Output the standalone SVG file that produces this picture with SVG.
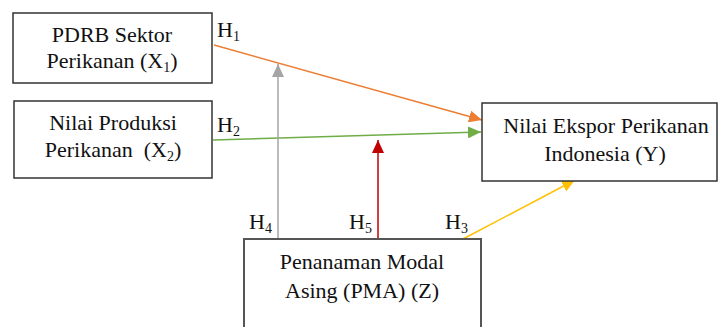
<svg xmlns="http://www.w3.org/2000/svg" width="718" height="327" viewBox="0 0 718 327">
<style>
.box{fill:#fff;stroke:#333;stroke-width:1.5}
.t{font-family:"Liberation Serif","Times New Roman",serif;font-size:22px;fill:#111;text-anchor:middle}
.h{font-family:"Liberation Serif","Times New Roman",serif;font-size:22px;fill:#111}
.c{fill:none;stroke-width:1.5}
</style>
<defs>
<marker id="mo" markerUnits="userSpaceOnUse" markerWidth="14" markerHeight="12" refX="13" refY="6" orient="auto"><path d="M0,0 L13,6 L0,12 Z" fill="#ED7D31"/></marker>
<marker id="mg" markerUnits="userSpaceOnUse" markerWidth="14" markerHeight="12" refX="13" refY="6" orient="auto"><path d="M0,0 L13,6 L0,12 Z" fill="#70AD47"/></marker>
<marker id="ma" markerUnits="userSpaceOnUse" markerWidth="14" markerHeight="12" refX="13" refY="6" orient="auto"><path d="M0,0 L13,6 L0,12 Z" fill="#A5A5A5"/></marker>
<marker id="mr" markerUnits="userSpaceOnUse" markerWidth="14" markerHeight="12" refX="13" refY="6" orient="auto"><path d="M0,0 L13,6 L0,12 Z" fill="#C00000"/></marker>
<marker id="my" markerUnits="userSpaceOnUse" markerWidth="14" markerHeight="12" refX="13" refY="6" orient="auto"><path d="M0,0 L13,6 L0,12 Z" fill="#FFC000"/></marker>
</defs>
<rect width="718" height="327" fill="#fff"/>
<g id="connectors">
<line class="c" x1="214" y1="45" x2="482" y2="120" stroke="#ED7D31" marker-end="url(#mo)"/>
<line class="c" x1="213" y1="140" x2="481" y2="132" stroke="#70AD47" marker-end="url(#mg)"/>
<line class="c" x1="278" y1="239" x2="278" y2="64" stroke="#A5A5A5" marker-end="url(#ma)"/>
<line class="c" x1="378" y1="239" x2="378" y2="140" stroke="#C00000" marker-end="url(#mr)"/>
<line class="c" x1="463" y1="239" x2="575" y2="180" stroke="#FFC000" marker-end="url(#my)"/>
<text class="h" x="217" y="37">H<tspan font-size="14" dy="4">1</tspan></text>
<text class="h" x="217" y="132">H<tspan font-size="14" dy="4">2</tspan></text>
<text class="h" x="249" y="229">H<tspan font-size="14" dy="4">4</tspan></text>
<text class="h" x="349" y="229">H<tspan font-size="14" dy="4">5</tspan></text>
<text class="h" x="445" y="229">H<tspan font-size="14" dy="4">3</tspan></text>
</g>
<g id="x1">
<rect class="box" x="13" y="13" width="199" height="70"/>
<text class="t" x="112" y="42">PDRB Sektor</text>
<text class="t" x="112" y="68">Perikanan (X<tspan font-size="14" dy="4">1</tspan><tspan dy="-4">)</tspan></text>
</g>
<g id="x2">
<rect class="box" x="14" y="101" width="198" height="77"/>
<text class="t" x="113" y="130">Nilai Produksi</text>
<text class="t" x="113" y="157" xml:space="preserve">Perikanan  (X<tspan font-size="14" dy="4">2</tspan><tspan dy="-4">)</tspan></text>
</g>
<g id="y">
<rect class="box" x="482" y="103" width="235" height="78"/>
<text class="t" x="606" y="133">Nilai Ekspor Perikanan</text>
<text class="t" x="605" y="161">Indonesia (Y)</text>
</g>
<g id="z">
<rect class="box" x="244" y="239" width="237" height="100" style="stroke:#555;stroke-width:2"/>
<text class="t" x="362" y="269">Penanaman Modal</text>
<text class="t" x="362" y="298">Asing (PMA) (Z)</text>
</g>
</svg>
